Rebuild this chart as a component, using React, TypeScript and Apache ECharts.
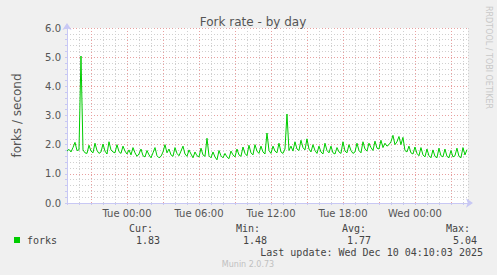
import React, { useEffect, useRef } from "react";
import * as echarts from "echarts";

// hours relative to Tue 00:00; one sample every 10 minutes starting at -5h
const startHour = -5;
const stepHours = 1 / 6;
const forks: number[] = [
  1.78, 1.84, 1.75, 1.90, 2.08, 1.80, 1.82, 5.04, 1.82, 1.72, 1.70, 1.98,
  1.78, 1.72, 2.05, 1.80, 1.70, 1.75, 2.02, 1.78, 1.68, 2.10, 1.82, 1.75,
  1.72, 2.00, 1.76, 1.70, 1.95, 1.78, 1.68, 1.82, 1.65, 1.90, 1.72, 1.60,
  1.68, 1.85, 1.62, 1.58, 1.80, 1.65, 1.55, 1.72, 1.90, 1.62, 1.55, 1.60,
  1.75, 2.00, 1.72, 1.85, 1.65, 1.60, 1.90, 1.70, 1.62, 1.78, 1.95, 1.68,
  1.60, 1.82, 1.68, 1.55, 1.75, 1.62, 1.58, 1.88, 1.65, 1.60, 2.22, 1.62,
  1.55, 1.75, 1.58, 1.48, 1.80, 1.62, 1.55, 1.70, 1.58, 1.52, 1.78, 1.65,
  1.58, 1.85, 1.65, 1.60, 1.92, 1.70, 1.62, 1.98, 1.72, 1.65, 2.00, 1.78,
  1.70, 1.95, 1.75, 1.68, 2.40, 1.80, 1.70, 1.95, 1.78, 1.72, 2.05, 1.75,
  1.70, 1.85, 3.05, 1.80, 1.95, 1.78, 2.10, 1.85, 1.80, 2.15, 1.90, 1.82,
  2.20, 1.85, 1.75, 2.00, 1.80, 1.70, 1.95, 1.75, 1.68, 2.05, 1.80, 1.72,
  1.95, 1.72, 1.68, 1.90, 1.75, 1.70, 2.10, 1.78, 1.72, 2.00, 1.80, 1.70,
  1.75, 2.05, 1.80, 1.72, 2.10, 1.85, 1.78, 2.05, 1.90, 1.80, 2.12, 1.88,
  1.85, 2.15, 1.90, 2.05, 1.95, 2.00, 2.10, 2.32, 2.00, 2.10, 2.28, 2.00,
  2.25, 1.80, 1.75, 1.95, 1.72, 1.68, 1.92, 1.70, 1.62, 1.90, 1.65, 1.58,
  1.85, 1.62, 1.55, 1.82, 1.60, 1.55, 1.88, 1.62, 1.58, 1.85, 1.60, 1.55,
  1.80, 1.58, 1.62, 1.88, 1.60, 1.55, 1.90, 1.65, 1.83,
];

const xMin = -5;
const xMax = 28.42;
const xLabels: Record<number, string> = {
  0: "Tue 00:00",
  6: "Tue 06:00",
  12: "Tue 12:00",
  18: "Tue 18:00",
  24: "Wed 00:00",
};
const yMax = 6;

const legendName = "forks";
const statHeads = ["Cur:", "Min:", "Avg:", "Max:"];
const statValues = ["1.83", "1.48", "1.77", "5.04"];
const lastUpdate = "Last update: Wed Dec 10 04:10:03 2025";

export default function App() {
  const ref = useRef<HTMLDivElement>(null);
  useEffect(() => {
    if (!ref.current) return;
    const chart = echarts.init(ref.current, null, { renderer: "svg" });
    const data = forks.map((v, i) => [startHour + i * stepHours, v]);
    const red = "#e8a0a0";
    const gray = "#d0d0d0";
    const axisCol = "#c8c8f4";
    const mono = "DejaVu Sans Mono";
    const headX = [153, 260, 366, 470];
    const valX = [160, 267, 371, 477];
    const graphic: any[] = [
      {
        type: "text",
        x: 488,
        y: 6,
        rotation: -Math.PI / 2,
        style: {
          text: "RRDTOOL / TOBI OETIKER",
          font: "8px DejaVu Sans",
          fill: "#c8c8c8",
          align: "left",
          verticalAlign: "middle",
        },
      },
      {
        type: "rect",
        shape: { x: 14, y: 237, width: 6, height: 6 },
        style: { fill: "#00cc00" },
      },
      {
        type: "text",
        x: 27,
        y: 240,
        style: { text: legendName, font: `10px ${mono}`, fill: "#444", align: "left", verticalAlign: "middle" },
      },
      {
        type: "text",
        x: 483,
        y: 252,
        style: { text: lastUpdate, font: `10px ${mono}`, fill: "#444", align: "right", verticalAlign: "middle" },
      },
      {
        type: "text",
        x: 248,
        y: 264,
        style: { text: "Munin 2.0.73", font: "8px DejaVu Sans", fill: "#c0c0c0", align: "center", verticalAlign: "middle" },
      },
    ];
    statHeads.forEach((h, i) => {
      graphic.push({
        type: "text",
        x: headX[i],
        y: 228,
        style: { text: h, font: `10px ${mono}`, fill: "#444", align: "right", verticalAlign: "middle" },
      });
      graphic.push({
        type: "text",
        x: valX[i],
        y: 240,
        style: { text: statValues[i], font: `10px ${mono}`, fill: "#444", align: "right", verticalAlign: "middle" },
      });
    });

    chart.setOption({
      animation: false,
      backgroundColor: "#f0f0f0",
      title: {
        text: "Fork rate - by day",
        left: 248,
        textAlign: "center",
        top: 11,
        textStyle: { fontFamily: "DejaVu Sans", fontSize: 12, fontWeight: "normal", color: "#555" },
      },
      grid: {
        left: 67,
        top: 28,
        width: 401,
        height: 175,
        show: true,
        backgroundColor: "#ffffff",
        borderWidth: 0,
      },
      xAxis: {
        type: "value",
        min: xMin,
        max: xMax,
        interval: 1,
        axisLine: {
          show: true,
          onZero: false,
          lineStyle: { color: axisCol, width: 1 },
          symbol: ["none", "arrow"],
          symbolSize: [7, 7],
          symbolOffset: [0, 5],
        },
        axisTick: { show: true, length: 2, inside: false, lineStyle: { color: axisCol } },
        axisLabel: {
          margin: 5,
          fontFamily: "DejaVu Sans",
          fontSize: 10,
          color: "#555",
          showMinLabel: true,
          showMaxLabel: false,
          hideOverlap: false,
          formatter: (v: number) => xLabels[Math.round(v)] && Math.abs(v - Math.round(v)) < 1e-6 ? xLabels[Math.round(v)] : "",
        },
        splitLine: {
          show: true,
          lineStyle: { color: [gray, gray, red], type: [1, 2], width: 1 },
        },
      },
      yAxis: {
        type: "value",
        min: 0,
        max: yMax,
        interval: 0.2,
        name: "forks / second",
        nameLocation: "middle",
        nameGap: 44,
        nameTextStyle: { fontFamily: "DejaVu Sans", fontSize: 12, color: "#555" },
        axisLine: {
          show: true,
          onZero: false,
          lineStyle: { color: axisCol, width: 1 },
          symbol: ["none", "arrow"],
          symbolSize: [7, 7],
          symbolOffset: [0, 5],
        },
        axisTick: { show: true, length: 2, lineStyle: { color: axisCol } },
        axisLabel: {
          margin: 6,
          fontFamily: "DejaVu Sans",
          fontSize: 10,
          color: "#555",
          formatter: (v: number) => (Math.abs(v - Math.round(v)) < 1e-6 ? Math.round(v).toFixed(1) : ""),
        },
        splitLine: {
          show: true,
          lineStyle: { color: [red, gray, gray, gray, gray], type: [1, 2], width: 1 },
        },
      },
      series: [
        {
          type: "line",
          data,
          showSymbol: false,
          symbol: "none",
          lineStyle: { color: "#00cc00", width: 1 },
          itemStyle: { color: "#00cc00" },
        },
      ],
      graphic,
    });
    return () => chart.dispose();
  }, []);
  return (
    <div
      ref={ref}
      style={{ position: "fixed", left: 0, top: 0, width: 497, height: 275 }}
    />
  );
}
